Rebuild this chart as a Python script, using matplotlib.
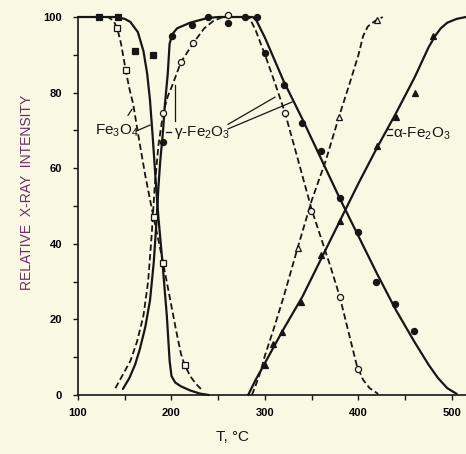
import matplotlib
matplotlib.use("Agg")
import matplotlib.pyplot as plt
from matplotlib.ticker import MultipleLocator

# --- curves (temperature in degC, relative intensity) ---
fe3o4_solid_t = [100, 140, 150, 156, 164, 170, 174, 177, 180, 183, 186, 190, 195, 198, 200, 204, 210, 220, 230, 240]
fe3o4_solid_i = [100, 100, 99.5, 98.7, 96, 91, 85, 78, 68, 57, 47, 36, 21, 9, 5, 3.3, 2.3, 1.2, 0.4, 0]

fe3o4_dash_t = [100, 132, 138, 142, 146, 151, 155, 159, 165, 172, 180, 186, 191, 198, 205, 210, 214, 220, 226, 233]
fe3o4_dash_i = [100, 100, 99, 97, 93, 86, 81, 77, 68, 58, 48, 41, 35, 26, 17, 11, 8, 5, 3, 1.2]

gamma_solid_t = [148, 155, 161, 166, 172, 177, 181, 184, 186, 188, 191, 193, 196, 198, 201, 206, 220, 238, 250,
                 287, 291, 295, 300, 320, 340, 360, 380, 400, 420, 440, 460, 475, 485, 495, 505]
gamma_solid_i = [1.6, 4.5, 8, 12, 18, 25, 35, 46, 55, 62, 70, 77, 85, 93, 95.5, 97, 98.5, 99.7, 100,
                 100, 99, 97, 94.5, 83, 73, 62.5, 52, 42, 32, 22.5, 14, 8, 4.5, 1.8, 0.3]

gamma_dash_t = [140, 146, 156, 163, 170, 175, 179, 182, 186, 191, 196, 201, 210, 223, 235, 245, 255,
                283, 290, 300, 310, 321, 330, 340, 350, 360, 370, 380, 390, 398, 405, 412, 421]
gamma_dash_i = [1.8, 4.5, 9, 14, 21, 30, 43, 55, 66, 74.5, 79, 82, 88, 93, 97, 99, 100,
                100, 96.5, 90, 83, 75, 67, 58, 49, 41.5, 34, 26, 16, 8, 4, 1.8, 0.3]

alpha_solid_t = [282, 290, 300, 310, 320, 340, 360, 380, 400, 420, 440, 460, 475, 482, 488, 495, 505, 515]
alpha_solid_i = [0, 4, 8.5, 13, 17.5, 26, 36, 46, 56, 65.5, 74.5, 84, 92, 95, 97, 98.5, 99.5, 100]

alpha_dash_t = [286, 290, 295, 300, 310, 320, 335, 350, 365, 379, 390, 400, 405, 410, 418, 426]
alpha_dash_i = [0, 2.5, 6, 10.5, 18, 26, 39, 51.5, 62, 73.5, 82, 90, 95, 97.5, 99, 100]

# --- measured points ---
sq_filled_t = [122, 143, 161, 180]
sq_filled_i = [100, 100, 91, 90]
sq_open_t = [142, 151, 181, 191, 214]
sq_open_i = [97, 86, 47, 35, 8]

circ_filled_t = [191, 201, 222, 239, 260, 279, 291, 300, 320, 340, 360, 380, 400, 419, 439, 459]
circ_filled_i = [67, 95, 98, 100, 98.4, 100, 100, 90.5, 82, 72, 64.5, 52, 43, 30, 24, 17]
circ_open_t = [191, 210, 223, 260, 321, 349, 380, 399]
circ_open_i = [74.5, 88, 93, 100.5, 74.6, 48.7, 26, 7]

tri_filled_t = [300, 309, 318, 338, 360, 380, 420, 440, 460, 480]
tri_filled_i = [8, 13.5, 16.7, 24.6, 37, 46, 66, 73.5, 80, 95]
tri_open_t = [335, 379, 420]
tri_open_i = [39, 73.5, 99.2]

BG = "#f9f8e3"
INK = "#161616"

plt.rcParams["font.family"] = ["Liberation Sans", "DejaVu Sans"]
plt.rcParams["mathtext.fontset"] = "custom"
plt.rcParams["mathtext.rm"] = "Liberation Sans"
plt.rcParams["mathtext.default"] = "regular"

fig = plt.figure(figsize=(4.66, 4.54), dpi=100, facecolor=BG)
ax = fig.add_axes([78 / 466, 1 - 395 / 454, 388 / 466, 378 / 454], facecolor=BG)

solid = dict(color=INK, lw=1.6, clip_on=False, solid_capstyle="round")
dashed = dict(color=INK, lw=1.3, ls=(0, (3.5, 1.8)), clip_on=False)

ax.plot(fe3o4_solid_t, fe3o4_solid_i, **solid)
ax.plot(fe3o4_dash_t, fe3o4_dash_i, **dashed)
ax.plot(gamma_solid_t, gamma_solid_i, **solid)
ax.plot(gamma_dash_t, gamma_dash_i, **dashed)
ax.plot(alpha_solid_t, alpha_solid_i, **solid)
ax.plot(alpha_dash_t, alpha_dash_i, **dashed)

mk = dict(ls="none", clip_on=False, zorder=3, mew=0.9)
ax.plot(sq_filled_t, sq_filled_i, marker="s", ms=4.2, color=INK, **mk)
ax.plot(sq_open_t, sq_open_i, marker="s", ms=4.2, mfc=BG, mec=INK, **mk)
ax.plot(circ_filled_t, circ_filled_i, marker="o", ms=4.4, color=INK, **mk)
ax.plot(circ_open_t, circ_open_i, marker="o", ms=4.4, mfc=BG, mec=INK, **mk)
ax.plot(tri_filled_t, tri_filled_i, marker="^", ms=4.2, color=INK, **mk)
ax.plot(tri_open_t, tri_open_i, marker="^", ms=4.2, mfc=BG, mec=INK, **mk)

ax.set_xlim(100, 515)
ax.set_ylim(0, 100)
ax.spines["top"].set_visible(False)
ax.spines["right"].set_visible(False)
for s in ("left", "bottom"):
    ax.spines[s].set_linewidth(1.2)
    ax.spines[s].set_color(INK)

ax.xaxis.set_major_locator(MultipleLocator(100))
ax.xaxis.set_minor_locator(MultipleLocator(50))
ax.yaxis.set_major_locator(MultipleLocator(20))
ax.yaxis.set_minor_locator(MultipleLocator(10))
ax.tick_params(which="both", direction="out", length=3.5, width=1, color=INK)
ax.tick_params(axis="x", labelsize=8, pad=6)
ax.tick_params(axis="y", labelsize=8, pad=8)
for lab in ax.get_xticklabels() + ax.get_yticklabels():
    lab.set_fontweight("bold")

fig.text(27 / 466, 1 - 192 / 454, "RELATIVE  X-RAY  INTENSITY", rotation=90,
         fontsize=10, color="#6e2c6a", ha="center", va="center")
fig.text(233 / 466, 1 - 437 / 454, "T, °C", fontsize=11, ha="center", va="center", color=INK)

# labels and leader lines
lab = dict(fontsize=11, color=INK, va="center")
ax.text(141.7, 69.8, "Fe$_3$O$_4$", ha="center", **lab)
ax.plot([153.5, 157.8], [74, 75.6], color=INK, lw=0.9)
ax.plot([162, 177], [69.8, 71.4], color=INK, lw=0.9)

ax.text(202.5, 69.5, "γ-Fe$_2$O$_3$", ha="left", **lab)
ax.plot([194, 199], [69.5, 69.5], color=INK, lw=0.9)
ax.plot([204, 204], [72.5, 82], color=INK, lw=0.9)
ax.plot([260.5, 310.7], [71.6, 78.8], color=INK, lw=0.9)
ax.plot([260.5, 328.9], [70.4, 77.5], color=INK, lw=0.9)

ax.text(437, 69, "α-Fe$_2$O$_3$", ha="left", **lab)
ax.plot([430.5, 435.5], [70.3, 70.3], color=INK, lw=0.9)
ax.plot([430, 435.5], [68.7, 68.7], color=INK, lw=0.9)

fig.savefig("out.png", dpi=100, facecolor=BG)
